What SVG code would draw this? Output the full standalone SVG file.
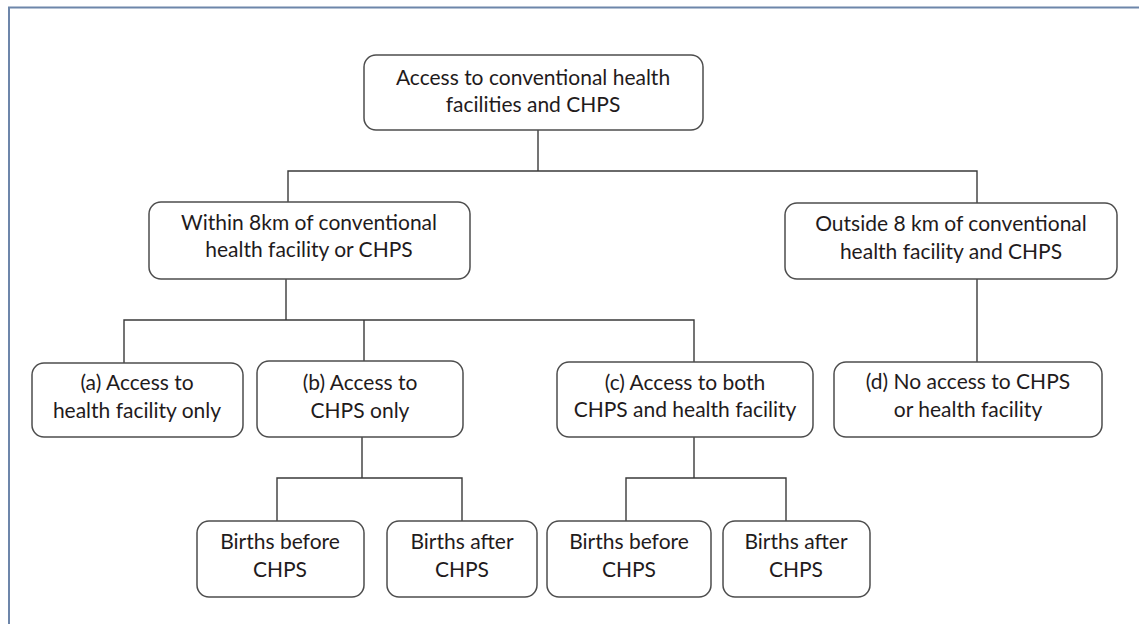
<svg xmlns="http://www.w3.org/2000/svg" width="1139" height="624" viewBox="0 0 1139 624">
<style>
.box{fill:#fff;stroke:#4d4d4d;stroke-width:1.5}
.t{font-family:"Lato","Liberation Sans",sans-serif;font-size:21px;fill:#1f1b1c;text-anchor:middle}
.c{fill:none;stroke:#3a3a3a;stroke-width:1.4}
</style>
<rect width="1139" height="624" fill="#fff"/>
<path d="M9 624 V7.5 H1139" fill="none" stroke="#6d86aa" stroke-width="2"/>
<g id="connectors">
<path class="c" d="M538 130 V171 M288 202 V171 H977 V203"/>
<path class="c" d="M286 279 V320 M124 363 V320 H694 V362 M364 320 V361"/>
<path class="c" d="M977 279 V362"/>
<path class="c" d="M362 437 V478 M277 521 V478 H462 V521"/>
<path class="c" d="M694 437 V478 M626 521 V478 H786 V521"/>
</g>
<g id="n-root"><rect class="box" x="364" y="55" width="339" height="75" rx="12"/><text class="t" x="533" y="85">Access to conventional health</text><text class="t" x="533" y="112">facilities and CHPS</text></g>
<g id="n-within"><rect class="box" x="149" y="202" width="321" height="77" rx="12"/><text class="t" x="309" y="230">Within 8km of conventional</text><text class="t" x="309" y="257">health facility or CHPS</text></g>
<g id="n-outside"><rect class="box" x="785" y="203" width="332" height="76" rx="12"/><text class="t" x="951" y="231">Outside 8 km of conventional</text><text class="t" x="951" y="259">health facility and CHPS</text></g>
<g id="n-a"><rect class="box" x="32" y="363" width="211" height="74" rx="12"/><text class="t" x="137" y="390">(a) Access to</text><text class="t" x="137" y="418">health facility only</text></g>
<g id="n-b"><rect class="box" x="257" y="361" width="206" height="76" rx="12"/><text class="t" x="360" y="390">(b) Access to</text><text class="t" x="360" y="418">CHPS only</text></g>
<g id="n-c"><rect class="box" x="557" y="362" width="256" height="75" rx="12"/><text class="t" x="685" y="390">(c) Access to both</text><text class="t" x="685" y="417">CHPS and health facility</text></g>
<g id="n-d"><rect class="box" x="834" y="362" width="268" height="75" rx="12"/><text class="t" x="968" y="389">(d) No access to CHPS</text><text class="t" x="968" y="417">or health facility</text></g>
<g id="n-b-before"><rect class="box" x="197" y="521" width="167" height="76" rx="12"/><text class="t" x="280" y="549">Births before</text><text class="t" x="280" y="577">CHPS</text></g>
<g id="n-b-after"><rect class="box" x="387" y="521" width="150" height="76" rx="12"/><text class="t" x="462" y="549">Births after</text><text class="t" x="462" y="577">CHPS</text></g>
<g id="n-c-before"><rect class="box" x="547" y="521" width="164" height="76" rx="12"/><text class="t" x="629" y="549">Births before</text><text class="t" x="629" y="577">CHPS</text></g>
<g id="n-c-after"><rect class="box" x="723" y="521" width="147" height="76" rx="12"/><text class="t" x="796" y="549">Births after</text><text class="t" x="796" y="577">CHPS</text></g>
</svg>
